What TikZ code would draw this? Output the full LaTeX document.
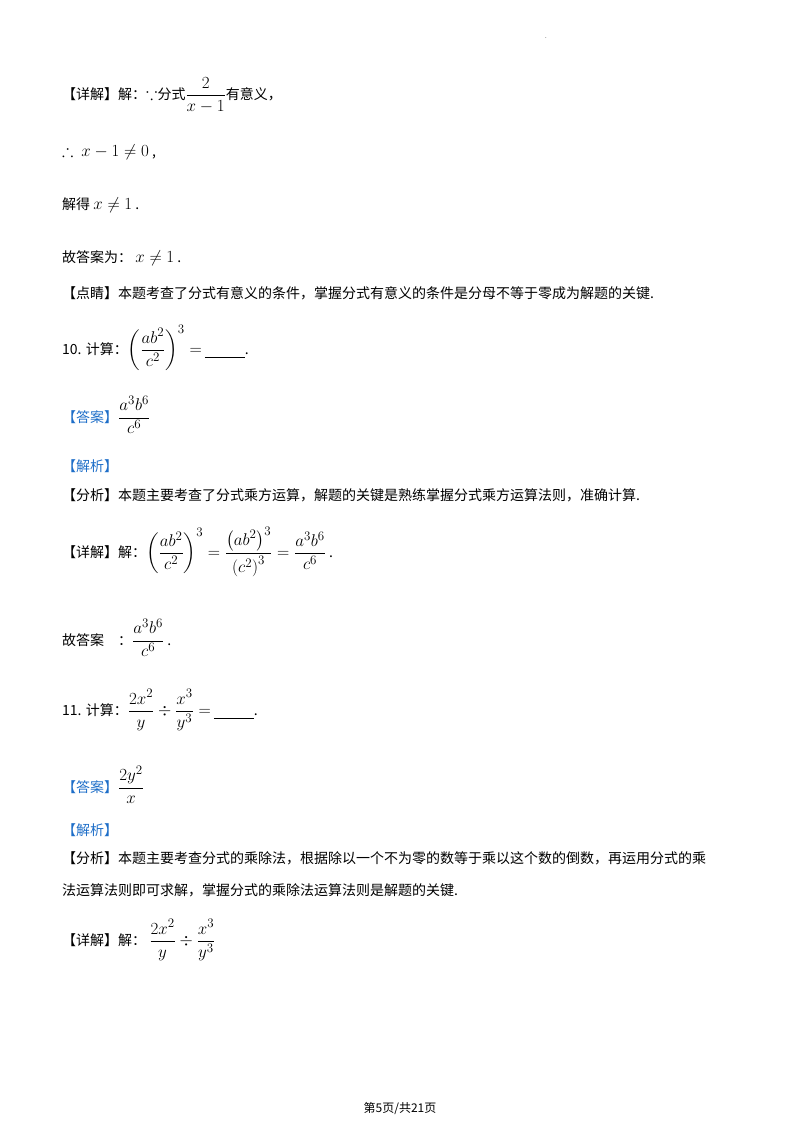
\documentclass[tikz,border=0pt]{standalone}
\usepackage{fix-cm}
\usepackage{amsmath,amssymb}
\DeclareMathSizes{14}{17}{13}{11}
\usepackage{fontspec}
\setmainfont{Noto Sans CJK SC}
\definecolor{ansblue}{RGB}{30,110,200}
\begin{document}
\begin{tikzpicture}[x=1pt,y=1pt,
  t/.style={anchor=west,inner sep=0pt,font=\fontsize{14}{17}\selectfont},
  b/.style={t,text=ansblue}]
\useasboundingbox (0,0) rectangle (800,-1132);
\node[t] (dot) at (545,-38) {\fontsize{6}{6}\selectfont .};
\node[t] (l1) at (62,-95) {【详解】解：$\because$分式$\dfrac{2}{x-1}$有意义，};
\node[t] (l2) at (62,-152) {$\therefore\ x-1\neq0$ ,};
\node[t] (l3) at (62,-205) {解得 $x\neq1$ .};
\node[t] (l4) at (62,-258) {故答案为：\ $x\neq1$ .};
\node[t] (l5) at (62,-293) {【点睛】本题考查了分式有意义的条件，掌握分式有意义的条件是分母不等于零成为解题的关键.};
\node[t] (l6) at (62,-348) {10. 计算：$\left(\dfrac{ab^2}{c^2}\right)^3=$ \underline{\hspace{40pt}}.};
\node[b] (l7) at (62,-415) {【答案】\textcolor{black}{$\dfrac{a^3b^6}{c^6}$}};
\node[b] (l8) at (62,-466) {【解析】};
\node[t] (l9) at (62,-495) {【分析】本题主要考查了分式乘方运算，解题的关键是熟练掌握分式乘方运算法则，准确计算.};
\node[t] (l10) at (62,-552) {【详解】解：$\left(\dfrac{ab^2}{c^2}\right)^3=\dfrac{\left(ab^2\right)^3}{\left(c^2\right)^3}=\dfrac{a^3b^6}{c^6}$ .};
\node[t] (l11) at (62,-638) {故答案\quad ：$\dfrac{a^3b^6}{c^6}$ .};
\node[t] (l12) at (62,-710) {11. 计算：$\dfrac{2x^2}{y}\div\dfrac{x^3}{y^3}=$ \underline{\hspace{40pt}}.};
\node[b] (l13) at (62,-785) {【答案】\textcolor{black}{$\dfrac{2y^2}{x}$}};
\node[b] (l14) at (62,-830) {【解析】};
\node[t] (l15) at (62,-858) {【分析】本题主要考查分式的乘除法，根据除以一个不为零的数等于乘以这个数的倒数，再运用分式的乘};
\node[t] (l16) at (62,-890) {法运算法则即可求解，掌握分式的乘除法运算法则是解题的关键.};
\node[t] (l17) at (62,-940) {【详解】解：\ $\dfrac{2x^2}{y}\div\dfrac{x^3}{y^3}$};
\node[t,anchor=center] (pg) at (400,-1108) {\fontsize{12}{14}\selectfont 第5页/共21页};
\end{tikzpicture}
\end{document}
